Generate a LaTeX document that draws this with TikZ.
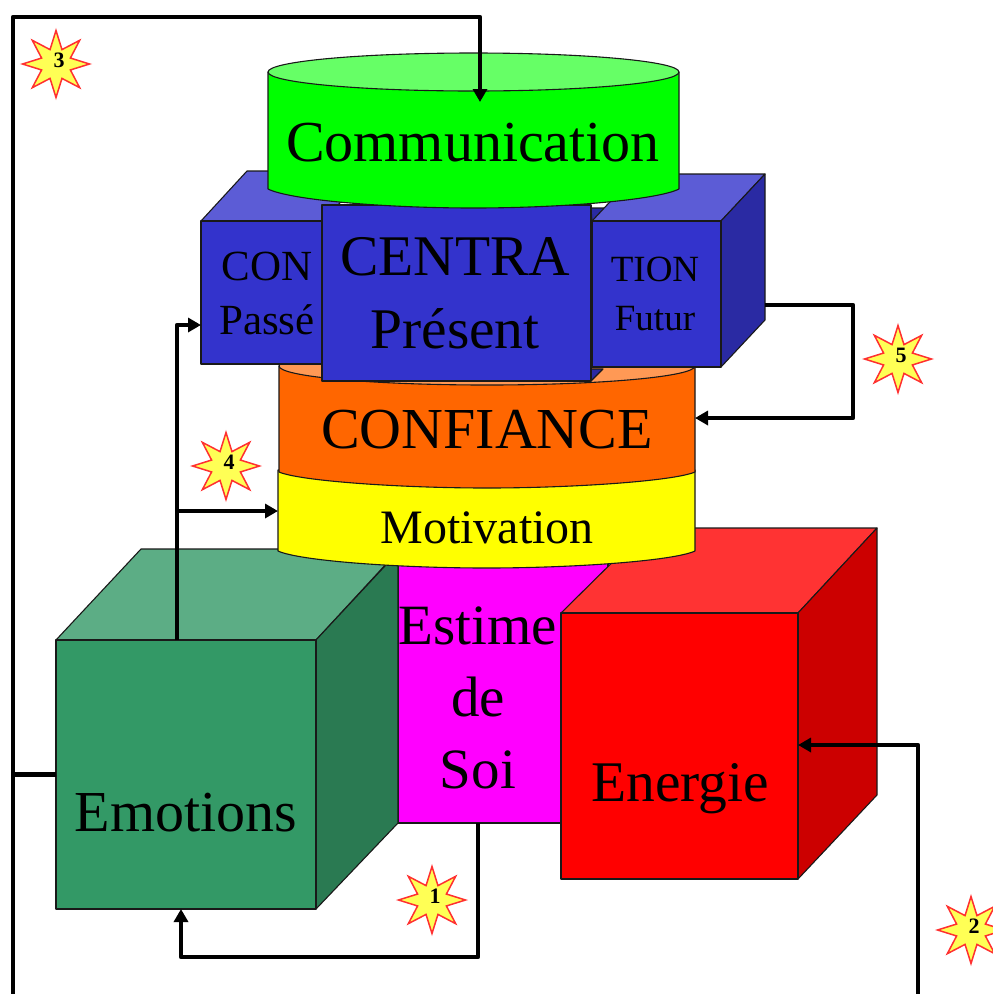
\documentclass[tikz,border=0pt]{standalone}
\usepackage{fontspec}
\setmainfont{Liberation Serif}
\usetikzlibrary{arrows.meta,shapes.geometric}
\definecolor{blueF}{HTML}{3333CC}
\definecolor{blueT}{HTML}{5C5CD6}
\definecolor{blueS}{HTML}{2A2AA3}
\definecolor{greenF}{HTML}{339966}
\definecolor{greenT}{HTML}{5CAD85}
\definecolor{greenS}{HTML}{2A7A52}
\definecolor{redF}{HTML}{FF0000}
\definecolor{redT}{HTML}{FF3333}
\definecolor{redS}{HTML}{CC0000}
\definecolor{commF}{HTML}{00FF00}
\definecolor{commTop}{HTML}{66FF66}
\definecolor{orangeF}{HTML}{FF6600}
\definecolor{orangeT}{HTML}{FF9955}
\definecolor{starF}{HTML}{FFFF55}
\definecolor{pureMagenta}{HTML}{FF00FF}
\definecolor{pureYellow}{HTML}{FFFF00}
\definecolor{starLine}{HTML}{FF3030}
\tikzset{
  face/.style={draw=black!90,line width=1.1pt,line join=round},
  frontbox/.style={face,rectangle,inner sep=0pt,outer sep=0pt},
  ghost/.style={rectangle,inner sep=0pt,outer sep=0pt},
  lab/.style={inner sep=0pt,align=center,text=black},
  burst/.style={star,star points=8,star point ratio=2.15,minimum size=67pt,inner sep=0pt,
    draw=starLine,fill=starF,line width=1.5pt,
    label={[font=\fontsize{22}{22}\selectfont\bfseries,inner sep=0pt,xshift=3pt,yshift=4pt]center:#1}},
  link/.style={line width=4.5pt,black,line join=round},
  linka/.style={link,-{Triangle[length=13pt,width=14pt]}},
}
\begin{document}
\begin{tikzpicture}[x=1pt,y=-1pt]
\useasboundingbox (0,0) rectangle (993,994);
\clip (0,0) rectangle (993,994);
% Estime de soi
\node[frontbox,fill=pureMagenta,minimum width=210pt,minimum height=268pt] (estime) at (503,689) {};
% Energie
\draw[face,fill=redT] (561,613) -- (647,528) -- (877,528) -- (798,613) -- cycle;
\draw[face,fill=redS] (798,613) -- (877,528) -- (877,795) -- (798,879) -- cycle;
\node[frontbox,fill=redF,minimum width=237pt,minimum height=266pt] (energie) at (679.5,746) {};
% Emotions
\draw[face,fill=greenT] (56,640) -- (141,549) -- (400,549) -- (316,640) -- cycle;
\draw[face,fill=greenS] (316,640) -- (398,552) -- (398,823) -- (316,909) -- cycle;
\node[frontbox,fill=greenF,minimum width=260pt,minimum height=269pt] (emotions) at (186,774.5) {};
% Motivation
\node[ghost,minimum width=417pt,minimum height=98pt] (motivation) at (486.5,520) {};
\draw[face,fill=pureYellow] (278,470) -- (278,551) .. controls (300,561) and (400,568) .. (486.5,568)
  .. controls (573,568) and (673,561) .. (695,551) -- (695,470) -- cycle;
% Confiance
\node[ghost,minimum width=416pt,minimum height=123pt] (confiance) at (487,426) {};
\draw[face,fill=orangeF] (279,366) -- (279,472) .. controls (300,481) and (400,488) .. (487,488)
  .. controls (574,488) and (674,481) .. (695,472) -- (695,366) -- cycle;
\draw[face,fill=orangeT] (487,366) ellipse[x radius=208pt,y radius=19pt];
% Con - Passe cube
\draw[face,fill=blueT] (201,221) -- (247,171) -- (370,171) -- (323,221) -- cycle;
\node[frontbox,fill=blueF,minimum width=122pt,minimum height=143pt] (passe) at (262,292.5) {};
% Tion - Futur cube
\draw[face,fill=blueS] (591,381) -- (603,369) -- (591,369) -- cycle;
\draw[face,fill=blueS] (591,208) -- (606,208) -- (592,222) -- cycle;
\draw[face,fill=blueT] (592,221) -- (636,174) -- (765,174) -- (721,221) -- cycle;
\draw[face,fill=blueS] (721,221) -- (765,174) -- (765,320) -- (721,367) -- cycle;
\node[frontbox,fill=blueF,minimum width=129pt,minimum height=146pt] (futur) at (656.5,294) {};
% Centra - Present
\node[frontbox,fill=blueF,minimum width=269pt,minimum height=176pt] (present) at (456.5,293) {};
% Communication
\node[ghost,minimum width=411pt,minimum height=155pt] (comm) at (473.5,130.5) {};
\draw[face,fill=commF] (268,72) -- (268,189) .. controls (290,200) and (385,208) .. (473.5,208)
  .. controls (562,208) and (657,200) .. (679,189) -- (679,72) -- cycle;
\draw[face,fill=commTop] (473.5,72) ellipse[x radius=205.5pt,y radius=19pt];
% Labels
\node[lab,font=\fontsize{58}{60}\selectfont] (tcomm) at (473,143) {Communication};
\node[lab,font=\fontsize{57.5}{73}\selectfont] (tpresent) at (455,293) {CENTRA\\Présent};
\node[lab,font=\fontsize{43}{54}\selectfont] (tpasse) at (267,293) {CON\\Passé};
\node[lab,font=\fontsize{37}{49}\selectfont] (tfutur) at (655,294) {TION\\Futur};
\node[lab,font=\fontsize{58}{60}\selectfont] (tconf) at (487,430) {CONFIANCE};
\node[lab,font=\fontsize{48}{50}\selectfont] (tmot) at (487,528) {Motivation};
\node[lab,font=\fontsize{57}{72}\selectfont] (testime) at (478,698) {Estime\\de\\Soi};
\node[lab,font=\fontsize{58}{60}\selectfont] (temo) at (186,813) {Emotions};
\node[lab,font=\fontsize{57.5}{60}\selectfont] (tene) at (680,789) {Energie};
% Free corners of the connectors
\coordinate (a0) at (13,1000);
\coordinate (a1) at (13,17);
\coordinate (a2) at (480,17);
\coordinate (a3) at (13,774.5);
\coordinate (c1) at (853,305);
\coordinate (c2) at (853,418);
\coordinate (e0) at (918,1000);
\coordinate (e1) at (918,745);
\coordinate (d1) at (478,957);
\coordinate (d2) at (181,957);
\coordinate (b1) at (177,325);
\coordinate (b2) at (177,511);
% Connectors
\draw[link] (emotions.west) -- (a3);
\draw[linka] (a0) -- (a1) -- (a2) -- ([xshift=6.5pt,yshift=-49pt]comm.north);
\draw[linka] ([xshift=-9pt]emotions.north) -- (b1) -- (b1 -| passe.west);
\draw[linka] (b2) -- (b2 -| motivation.west);
\draw[linka] (c1 -| futur.east) ++(44,0) -- (c1) -- (c2) -- (c2 -| confiance.east);
\draw[linka] (d1 |- estime.south) -- (d1) -- (d2) -- (d2 |- emotions.south);
\draw[linka] (e0) -- (e1) -- (e1 -| energie.east);
% Stars
\node[burst=3] (s3) at (56,64) {};
\node[burst=5] (s5) at (898,359) {};
\node[burst=4] (s4) at (226,466) {};
\node[burst=1] (s1) at (432,900) {};
\node[burst=2] (s2) at (971,930) {};
\end{tikzpicture}
\end{document}
